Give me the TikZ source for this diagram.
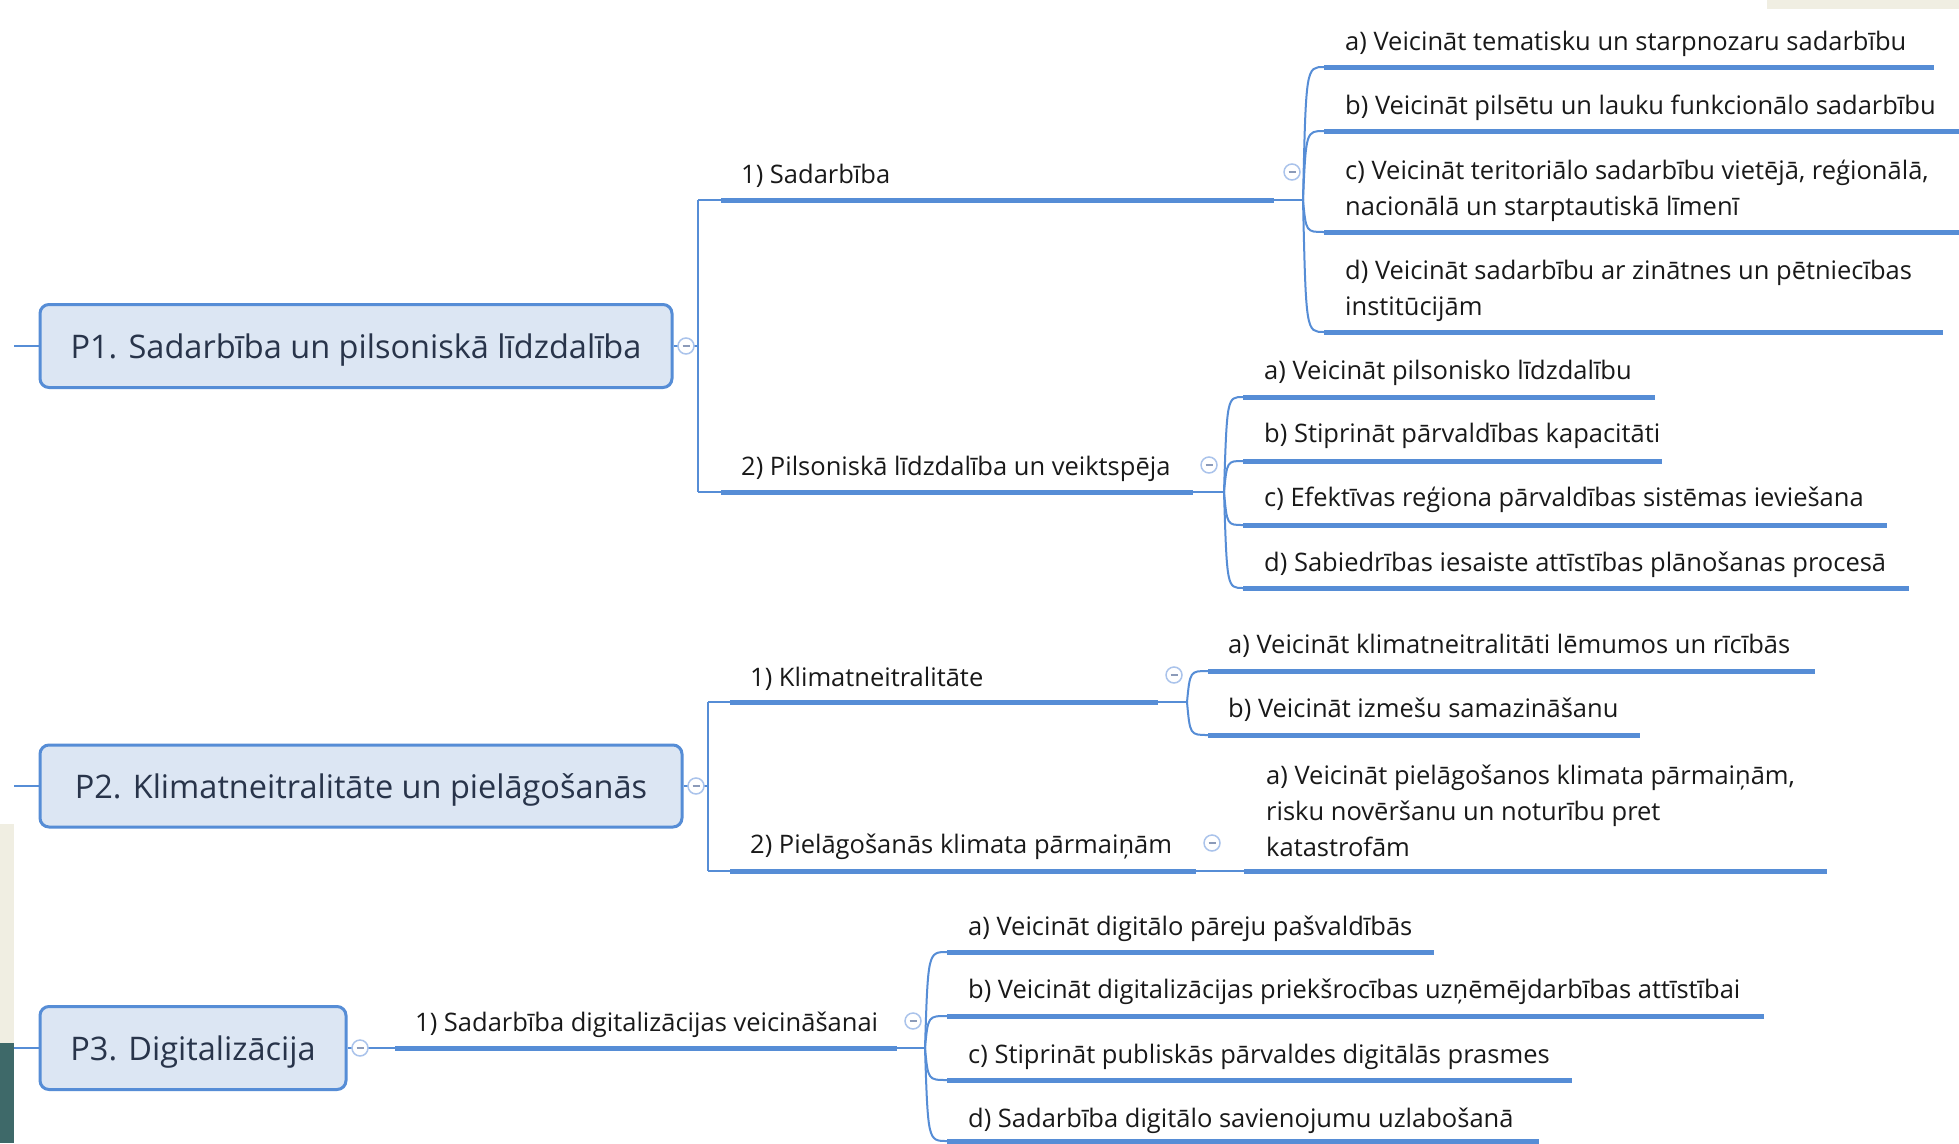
\documentclass[tikz,border=0pt]{standalone}
\usepackage{fontspec}
\setmainfont{Open Sans}
\usetikzlibrary{calc}
\definecolor{ln}{RGB}{86,141,214}
\definecolor{boxfill}{RGB}{220,230,243}
\definecolor{boxtext}{RGB}{40,52,74}
\definecolor{txt}{RGB}{25,25,25}
\definecolor{circ}{RGB}{170,195,235}
\definecolor{minusc}{RGB}{140,155,185}
\definecolor{beige}{RGB}{240,238,226}
\definecolor{teal}{RGB}{62,105,105}
\newcommand\mmchild[8]{%
  \coordinate (#1s) at (#4,#3);
  \coordinate (#1e) at (#5,#3);
  \node[lbl] (#1) at (#6,#7) {#8};
  \draw[thinln] (#2) .. controls ($(#2 |- #1s)+(3,0)$) .. (#1s);
  \draw[thickln] (#1s) -- (#1e);
}
\newcommand\mmlow[1]{\raisebox{-4pt}[\height][\depth]{#1}}
\begin{document}
\begin{tikzpicture}[x=1pt,y=-1pt,
  mainbox/.style={draw=ln, line width=3pt, fill=boxfill, rounded corners=9pt, text=boxtext,
    font=\fontsize{32.5}{39}\selectfont, inner sep=0pt},
  lbl/.style={anchor=west, inner sep=0pt, text=txt, font=\fontsize{25.5}{36}\selectfont, align=left, yshift=-3.5pt},
  thinln/.style={draw=ln, line width=2pt},
  thickln/.style={draw=ln, line width=5pt},
  colbtn/.style={circle, draw=circ, fill=white, line width=1.5pt, minimum size=16pt, inner sep=0pt,
    path picture={\draw[minusc, line width=2pt] ($(path picture bounding box.center)+(-3.5,0)$) -- ++(7,0);}}
]
\path[use as bounding box] (0,0) rectangle (1959,1143);
\clip (0,0) rectangle (1959,1143);
\fill[white] (0,0) rectangle (1959,1143);
% background remnants
\fill[beige] (0,824) rectangle (14,1043);
\fill[teal] (0,1043) rectangle (14,1143);
\fill[beige] (1767,0) rectangle (1959,9);

% ---------- P1 ----------
\node[mainbox, minimum width=632, minimum height=83] (p1) at (356,346) {\mmlow{P1. Sadarbība un pilsoniskā līdzdalība}};
\coordinate (s1) at (14,346);
\draw[thinln] (s1) -- (p1.west);
\coordinate (j1) at (698,346);
\draw[thinln] (p1.east) -- (j1);
\coordinate (v1t) at (698,200);
\coordinate (v1b) at (698,492);
\draw[thinln] (v1t) -- (v1b);
% branch 1
\coordinate (b1a) at (721,200); \coordinate (b1b) at (1274,200); \coordinate (f1) at (1303,200);
\draw[thinln] (v1t) -- (b1a); \draw[thickln] (b1a) -- (b1b); \draw[thinln] (b1b) -- (f1);
\node[lbl] (b1) at (741,172) {1) Sadarbība};
% branch 2
\coordinate (b2a) at (721,492); \coordinate (b2b) at (1193,492); \coordinate (f2) at (1224,492);
\draw[thinln] (v1b) -- (b2a); \draw[thickln] (b2a) -- (b2b); \draw[thinln] (b2b) -- (f2);
\node[lbl] (b2) at (741,465) {2) Pilsoniskā līdzdalība un veiktspēja};

\mmchild{p1a}{f1}{67}{1324}{1934}{1345}{40}{a) Veicināt tematisku un starpnozaru sadarbību}
\mmchild{p1b}{f1}{131}{1324}{1959}{1345}{104}{b) Veicināt pilsētu un lauku funkcionālo sadarbību}
\mmchild{p1c}{f1}{232}{1324}{1959}{1345}{187}{c) Veicināt teritoriālo sadarbību vietējā, reģionālā,\\nacionālā un starptautiskā līmenī}
\mmchild{p1d}{f1}{332}{1324}{1943}{1345}{287}{d) Veicināt sadarbību ar zinātnes un pētniecības\\institūcijām}

\mmchild{p2a}{f2}{397}{1243}{1655}{1264}{369}{a) Veicināt pilsonisko līdzdalību}
\mmchild{p2b}{f2}{461}{1243}{1662}{1264}{432}{b) Stiprināt pārvaldības kapacitāti}
\mmchild{p2c}{f2}{525}{1243}{1887}{1264}{496}{c) Efektīvas reģiona pārvaldības sistēmas ieviešana}
\mmchild{p2d}{f2}{588}{1243}{1909}{1264}{561}{d) Sabiedrības iesaiste attīstības plānošanas procesā}

\node[colbtn] (c1) at (686,346) {};
\node[colbtn] (c1a) at (1292,172) {};
\node[colbtn] (c1b) at (1209,465) {};

% ---------- P2 ----------
\node[mainbox, minimum width=642, minimum height=82] (p2) at (361,786) {\mmlow{P2. Klimatneitralitāte un pielāgošanās}};
\coordinate (s2) at (14,786);
\draw[thinln] (s2) -- (p2.west);
\coordinate (j2) at (708,786);
\draw[thinln] (p2.east) -- (j2);
\coordinate (v2t) at (708,702);
\coordinate (v2b) at (708,871);
\draw[thinln] (v2t) -- (v2b);
% branch 3
\coordinate (b3a) at (730,702); \coordinate (b3b) at (1158,702); \coordinate (f3) at (1187,702);
\draw[thinln] (v2t) -- (b3a); \draw[thickln] (b3a) -- (b3b); \draw[thinln] (b3b) -- (f3);
\node[lbl] (b3) at (750,675) {1) Klimatneitralitāte};
% branch 4
\coordinate (b4a) at (730,871); \coordinate (b4b) at (1196,871); \coordinate (f4) at (1244,871);
\draw[thinln] (v2b) -- (b4a); \draw[thickln] (b4a) -- (b4b); \draw[thinln] (b4b) -- (f4);
\node[lbl] (b4) at (750,843) {2) Pielāgošanās klimata pārmaiņām};

\mmchild{p3a}{f3}{671}{1208}{1815}{1228}{642}{a) Veicināt klimatneitralitāti lēmumos un rīcībās}
\mmchild{p3b}{f3}{735}{1208}{1640}{1228}{706}{b) Veicināt izmešu samazināšanu}
\coordinate (p4ae) at (1827,871);
\draw[thickln] (f4) -- (p4ae);
\node[lbl] (p4a) at (1266,807) {a) Veicināt pielāgošanos klimata pārmaiņām,\\risku novēršanu un noturību pret\\katastrofām};

\node[colbtn] (c2) at (696,786) {};
\node[colbtn] (c2a) at (1174,675) {};
\node[colbtn] (c2b) at (1212,843) {};

% ---------- P3 ----------
\node[mainbox, minimum width=306, minimum height=83] (p3) at (193,1048) {\mmlow{P3. Digitalizācija}};
\coordinate (s3) at (14,1048);
\draw[thinln] (s3) -- (p3.west);
\coordinate (b5a) at (395,1048); \coordinate (b5b) at (897,1048); \coordinate (f5) at (925,1048);
\draw[thinln] (p3.east) -- (b5a); \draw[thickln] (b5a) -- (b5b); \draw[thinln] (b5b) -- (f5);
\node[lbl] (b5) at (415,1021) {1) Sadarbība digitalizācijas veicināšanai};

\mmchild{p5a}{f5}{952}{947}{1434}{968}{925}{a) Veicināt digitālo pāreju pašvaldībās}
\mmchild{p5b}{f5}{1016}{947}{1764}{968}{988}{b) Veicināt digitalizācijas priekšrocības uzņēmējdarbības attīstībai}
\mmchild{p5c}{f5}{1080}{947}{1572}{968}{1053}{c) Stiprināt publiskās pārvaldes digitālās prasmes}
\mmchild{p5d}{f5}{1141}{947}{1539}{968}{1117}{d) Sadarbība digitālo savienojumu uzlabošanā}

\node[colbtn] (c3) at (360,1048) {};
\node[colbtn] (c3a) at (913,1021) {};
\end{tikzpicture}
\end{document}
